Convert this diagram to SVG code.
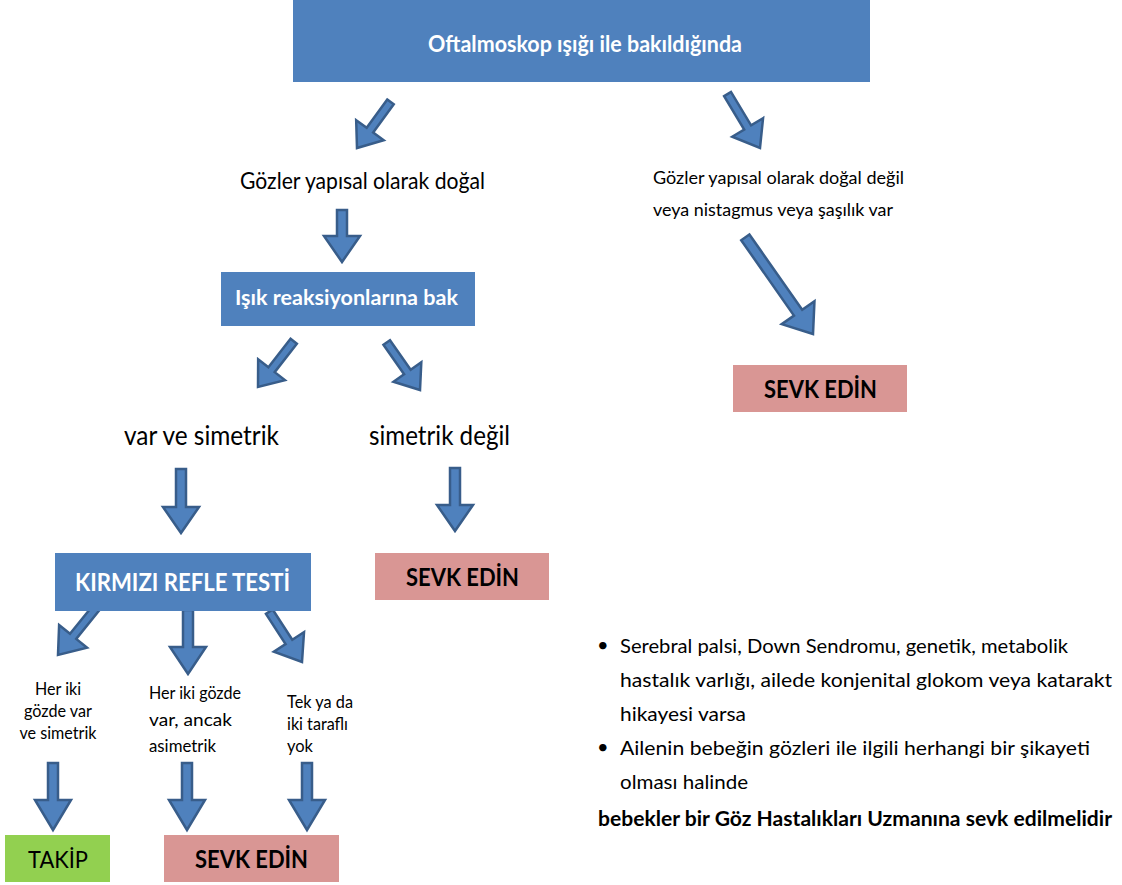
<svg xmlns="http://www.w3.org/2000/svg" width="1122" height="885" viewBox="0 0 1122 885">
<style>
  .blue{fill:#4F81BD}
  .red{fill:#D99694}
  .green{fill:#92D050}
  .arr{fill:#4F81BD;stroke:#385D8A;stroke-width:2.5;stroke-linejoin:miter}
  text{font-family:Lato,"Open Sans","DejaVu Sans",sans-serif;fill:#000}
  .wb{fill:#fff;font-weight:bold}
  .b{font-weight:bold}
</style>
<rect width="1122" height="885" fill="#fff"/>
<g id="connectors">
  <path class="arr" transform="translate(357,148) rotate(36)" d="M-4,-57 L4,-57 L4,-22 L17,-22 L0,0 L-17,-22 L-4,-22 Z"/>
  <path class="arr" transform="translate(760,148) rotate(-31)" d="M-4,-63 L4,-63 L4,-24 L18,-24 L0,0 L-18,-24 L-4,-24 Z"/>
  <path class="arr" transform="translate(342,262)" d="M-5,-52 L5,-52 L5,-26 L18,-26 L0,0 L-18,-26 L-5,-26 Z"/>
  <path class="arr" transform="translate(813,334) rotate(-35)" d="M-5,-118 L5,-118 L5,-26 L20,-26 L0,0 L-20,-26 L-5,-26 Z"/>
  <path class="arr" transform="translate(258,387) rotate(38)" d="M-4,-58 L4,-58 L4,-22 L17,-22 L0,0 L-17,-22 L-4,-22 Z"/>
  <path class="arr" transform="translate(420,390) rotate(-35)" d="M-4,-58 L4,-58 L4,-22 L17,-22 L0,0 L-17,-22 L-4,-22 Z"/>
  <path class="arr" transform="translate(181,533)" d="M-5,-64 L5,-64 L5,-26 L18,-26 L0,0 L-18,-26 L-5,-26 Z"/>
  <path class="arr" transform="translate(455,531)" d="M-5,-63 L5,-63 L5,-26 L18,-26 L0,0 L-18,-26 L-5,-26 Z"/>
  <path class="arr" transform="translate(58,655) rotate(39)" d="M-4,-64 L4,-64 L4,-24 L18,-24 L0,0 L-18,-24 L-4,-24 Z"/>
  <path class="arr" transform="translate(188,674)" d="M-5,-64 L5,-64 L5,-27 L18,-27 L0,0 L-18,-27 L-5,-27 Z"/>
  <path class="arr" transform="translate(302,662) rotate(-33)" d="M-4,-60 L4,-60 L4,-24 L18,-24 L0,0 L-18,-24 L-4,-24 Z"/>
  <path class="arr" transform="translate(53,830)" d="M-5,-67 L5,-67 L5,-30 L18,-30 L0,0 L-18,-30 L-5,-30 Z"/>
  <path class="arr" transform="translate(187,830)" d="M-5,-67 L5,-67 L5,-30 L18,-30 L0,0 L-18,-30 L-5,-30 Z"/>
  <path class="arr" transform="translate(307,830)" d="M-5,-67 L5,-67 L5,-30 L18,-30 L0,0 L-18,-30 L-5,-30 Z"/>
</g>
<g id="n-top">
  <rect class="blue" x="293" y="0" width="577" height="82"/>
  <text class="wb" x="428" y="52" font-size="22" textLength="314" lengthAdjust="spacingAndGlyphs">Oftalmoskop ışığı ile bakıldığında</text>
</g>
<g id="n-dogal">
  <text x="240" y="189" font-size="23" textLength="245" lengthAdjust="spacingAndGlyphs">Gözler yapısal olarak doğal</text>
</g>
<g id="n-degil">
  <text x="653" y="184" font-size="18" textLength="251" lengthAdjust="spacingAndGlyphs">Gözler yapısal olarak doğal değil</text>
  <text x="653" y="216" font-size="18" textLength="240" lengthAdjust="spacingAndGlyphs">veya nistagmus veya şaşılık var</text>
</g>
<g id="n-isik">
  <rect class="blue" x="221" y="272" width="254" height="54"/>
  <text class="wb" x="235" y="305" font-size="21" textLength="223" lengthAdjust="spacingAndGlyphs">Işık reaksiyonlarına bak</text>
</g>
<g id="n-sevk1">
  <rect class="red" x="733" y="365" width="174" height="47"/>
  <text class="b" x="764" y="398" font-size="24" textLength="113" lengthAdjust="spacingAndGlyphs">SEVK EDİN</text>
</g>
<g id="n-varsim">
  <text x="124" y="445" font-size="26" textLength="155" lengthAdjust="spacingAndGlyphs">var ve simetrik</text>
</g>
<g id="n-simdegil">
  <text x="369" y="445" font-size="26" textLength="141" lengthAdjust="spacingAndGlyphs">simetrik değil</text>
</g>
<g id="n-kirmizi">
  <rect class="blue" x="55" y="553" width="256" height="58"/>
  <text class="wb" x="75" y="591" font-size="24" textLength="215" lengthAdjust="spacingAndGlyphs">KIRMIZI REFLE TESTİ</text>
</g>
<g id="n-sevk2">
  <rect class="red" x="375" y="553" width="174" height="47"/>
  <text class="b" x="406" y="586" font-size="24" textLength="113" lengthAdjust="spacingAndGlyphs">SEVK EDİN</text>
</g>
<g id="n-heriki1" font-size="17">
  <text x="58" y="695" text-anchor="middle" textLength="46" lengthAdjust="spacingAndGlyphs">Her iki</text>
  <text x="58" y="717" text-anchor="middle" textLength="68" lengthAdjust="spacingAndGlyphs">gözde var</text>
  <text x="58" y="739" text-anchor="middle" textLength="77" lengthAdjust="spacingAndGlyphs">ve simetrik</text>
</g>
<g id="n-heriki2" font-size="17">
  <text x="149" y="699" textLength="92" lengthAdjust="spacingAndGlyphs">Her iki gözde</text>
  <text x="149" y="726" textLength="83" lengthAdjust="spacingAndGlyphs">var, ancak</text>
  <text x="149" y="752" textLength="67" lengthAdjust="spacingAndGlyphs">asimetrik</text>
</g>
<g id="n-tekya" font-size="17">
  <text x="287" y="708" textLength="66" lengthAdjust="spacingAndGlyphs">Tek ya da</text>
  <text x="287" y="730" textLength="61" lengthAdjust="spacingAndGlyphs">iki taraflı</text>
  <text x="287" y="752" textLength="26" lengthAdjust="spacingAndGlyphs">yok</text>
</g>
<g id="n-takip">
  <rect class="green" x="5" y="835" width="105" height="47"/>
  <text x="28" y="868" font-size="24" textLength="60" lengthAdjust="spacingAndGlyphs">TAKİP</text>
</g>
<g id="n-sevk3">
  <rect class="red" x="164" y="835" width="175" height="47"/>
  <text class="b" x="195" y="868" font-size="24" textLength="113" lengthAdjust="spacingAndGlyphs">SEVK EDİN</text>
</g>
<g id="n-notes" font-size="20">
  <text x="597" y="652">•</text>
  <text x="620" y="653" textLength="448" lengthAdjust="spacingAndGlyphs">Serebral palsi, Down Sendromu, genetik,  metabolik</text>
  <text x="620" y="687" textLength="492" lengthAdjust="spacingAndGlyphs">hastalık varlığı, ailede konjenital glokom veya katarakt</text>
  <text x="620" y="721" textLength="126" lengthAdjust="spacingAndGlyphs">hikayesi varsa</text>
  <text x="597" y="754">•</text>
  <text x="620" y="755" textLength="470" lengthAdjust="spacingAndGlyphs">Ailenin bebeğin gözleri ile ilgili herhangi bir şikayeti</text>
  <text x="620" y="789" textLength="128" lengthAdjust="spacingAndGlyphs">olması halinde</text>
  <text class="b" x="598" y="826" textLength="514" lengthAdjust="spacingAndGlyphs">bebekler bir Göz Hastalıkları Uzmanına sevk edilmelidir</text>
</g>
</svg>
